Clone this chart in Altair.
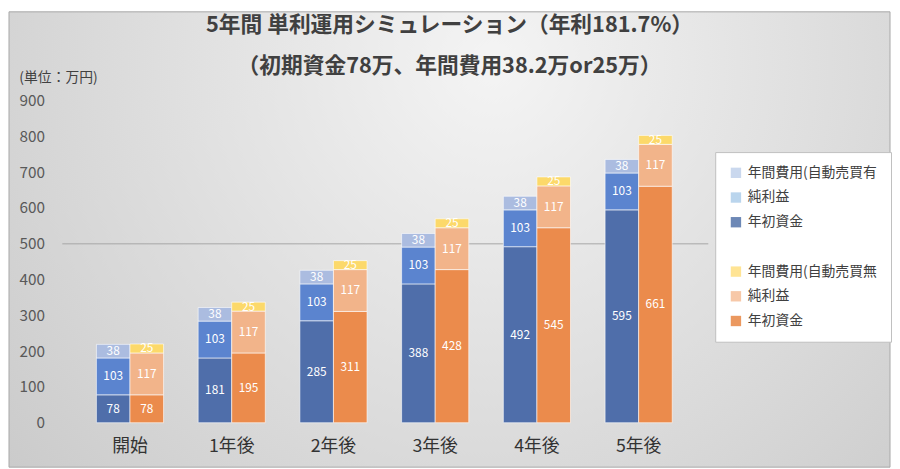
import altair as alt
import pandas as pd

categories = ["開始", "1年後", "2年後", "3年後", "4年後", "5年後"]
a_capital = [78, 181, 285, 388, 492, 595]
a_profit = [103, 103, 103, 103, 103, 103]
a_fee = [38, 38, 38, 38, 38, 38]
b_capital = [78, 195, 311, 428, 545, 661]
b_profit = [117, 117, 117, 117, 117, 117]
b_fee = [25, 25, 25, 25, 25, 25]
y_ticks = [0, 100, 200, 300, 400, 500, 600, 700, 800, 900]

bar_keys = ["A_capital", "A_profit", "A_fee", "B_capital", "B_profit", "B_fee"]
bar_colors = ["#4F6EAA", "#5B84CF", "#ABBCE0", "#EB8B4C", "#F2B48A", "#FCD96A"]

legend_labels = ["年間費用(自動売買有", "純利益", "年初資金", " ",
                 "年間費用(自動売買無", "純利益 ", "年初資金 "]
legend_colors = ["#B4C7E7", "#9DC3E6", "#2F5597", "transparent",
                 "#FFD966", "#F4B183", "#E36C1B"]

title_lines = ["5年間 単利運用シミュレーション（年利181.7%）",
               "（初期資金78万、年間費用38.2万or25万）"]
unit_label = "(単位：万円)"

FONT = "Noto Sans CJK JP"

rows = []
series_data = {
    "A": [("capital", 0, a_capital), ("profit", 1, a_profit), ("fee", 2, a_fee)],
    "B": [("capital", 0, b_capital), ("profit", 1, b_profit), ("fee", 2, b_fee)],
}
for s, segs in series_data.items():
    for seg, order, vals in segs:
        for c, v in zip(categories, vals):
            rows.append({"cat": c, "series": s, "seg": seg, "ord": order,
                         "value": v, "key": f"{s}_{seg}"})
df = pd.DataFrame(rows)

W, H = 618, 326

x_axis = alt.Axis(title=None, domain=False, ticks=False, labelAngle=0,
                  labelFontSize=18, labelColor="#333333", labelPadding=15,
                  labelFont=FONT, zindex=2)
y_axis = alt.Axis(values=y_ticks, tickCount=10, grid=False, domain=False,
                  ticks=False, labelPadding=35, labelFontSize=15.5,
                  labelColor="#595959", labelFont=FONT, labelOverlap=False,
                  title=unit_label, titleAngle=0, titleX=-61, titleY=-23,
                  titleAlign="left", titleBaseline="middle", titleFontSize=14,
                  titleFontWeight="normal", titleColor="#404040",
                  titleFont=FONT, zindex=2)
y_scale = alt.Scale(domain=[0, 900], nice=False)

x_enc = alt.X("cat:N", sort=categories,
              scale=alt.Scale(paddingInner=0.34, paddingOuter=0.17), axis=x_axis)
xo_enc = alt.XOffset("series:N", scale=alt.Scale(paddingInner=0, paddingOuter=0))

base = alt.Chart(df).transform_stack(
    stack="value", groupby=["cat", "series"], as_=["y0", "y1"],
    sort=[alt.SortField("ord", order="ascending")]
).transform_calculate(mid="(datum.y0 + datum.y1) / 2")

bars = base.mark_bar(stroke="white", strokeOpacity=0.6, strokeWidth=1).encode(
    x=x_enc,
    xOffset=xo_enc,
    y=alt.Y("y0:Q", scale=y_scale, axis=y_axis),
    y2="y1:Q",
    color=alt.Color("key:N", scale=alt.Scale(domain=bar_keys, range=bar_colors),
                    legend=None),
)

labels = base.mark_text(color="white", fontSize=12, font=FONT).encode(
    x=x_enc, xOffset=xo_enc,
    y=alt.Y("mid:Q", scale=y_scale, axis=y_axis), text="value:Q"
)

ref = alt.Chart(pd.DataFrame({"v": [500]})).mark_rule(color="#A6A6A6", strokeWidth=1).encode(
    y=alt.Y("v:Q", scale=y_scale, axis=y_axis), x=alt.value(-17), x2=alt.value(637)
)

grad = alt.RadialGradient(
    gradient="radial", x1=0.55, y1=0.3, r1=0, x2=0.55, y2=0.3, r2=0.8,
    stops=[alt.GradientStop(offset=0, color="#F4F4F4"),
           alt.GradientStop(offset=1, color="#C6C6C6")])
bg = alt.Chart(pd.DataFrame({"a": [0]})).mark_rect(fill=grad, stroke="#A8A8A8", strokeWidth=1).encode(
    x=alt.value(-71), x2=alt.value(W + 203), y=alt.value(-90), y2=alt.value(H + 45)
)

leg = alt.Chart(pd.DataFrame({"lab": legend_labels})).transform_filter("false").mark_square().encode(
    fill=alt.Fill("lab:N", scale=alt.Scale(domain=legend_labels, range=legend_colors),
                  legend=alt.Legend(title=None, orient="none", legendX=644, legendY=52,
                                    fillColor="white", strokeColor="#BFBFBF",
                                    padding=14, symbolType="square", symbolSize=110,
                                    symbolStrokeWidth=0, labelFontSize=14,
                                    labelColor="#404040", labelFont=FONT,
                                    rowPadding=11, labelOffset=5, labelLimit=220,
                                    zindex=3))
)

chart = alt.layer(bg, ref, bars, labels, leg).properties(
    width=W, height=H, padding=0,
    title=alt.TitleParams(text=title_lines, fontSize=22, fontWeight="bold",
                          color="#404040", lineHeight=41, offset=-67,
                          anchor="middle", dx=66, font=FONT),
).configure_view(strokeWidth=0).configure(background="white")

chart.save("out.html", embed_options={"renderer": "svg", "actions": False})
